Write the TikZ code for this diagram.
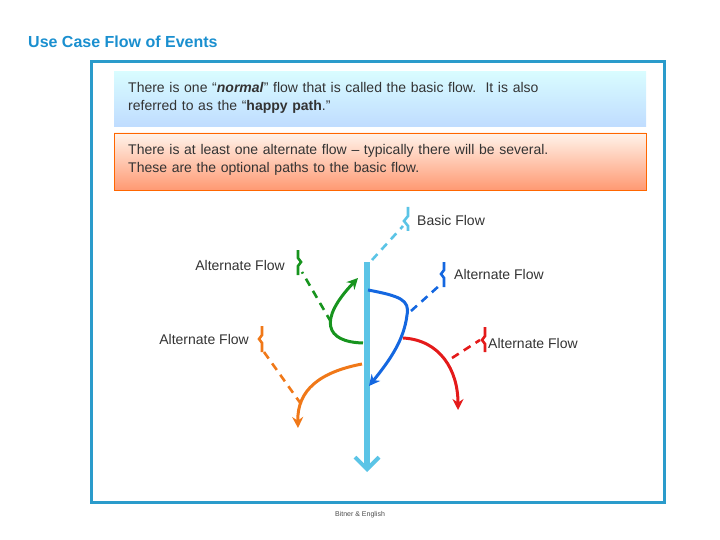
\documentclass[tikz,border=0pt]{standalone}
\usepackage{fontspec}
\setmainfont{Liberation Sans}
\usetikzlibrary{arrows.meta}
\definecolor{frameblue}{HTML}{2A9BCB}
\definecolor{titleblue}{HTML}{1A8FCF}
\definecolor{basic}{HTML}{5BC4E6}
\definecolor{gflow}{HTML}{17941E}
\definecolor{bflow}{HTML}{1467E0}
\definecolor{oflow}{HTML}{F07818}
\definecolor{rflow}{HTML}{E41A1A}
\tikzset{
  lbl/.style={font=\fontsize{14}{16}\selectfont, text=black!80, inner sep=0pt},
  dsh/.style={line width=2.6pt, dash pattern=on 8pt off 6pt},
  sol/.style={line width=3pt, -{Stealth[length=11pt,width=11pt]}},
  brk/.style={line width=2.6pt},
}
\begin{document}
\begin{tikzpicture}[x=1pt,y=-1pt]
\useasboundingbox (0,0) rectangle (720,540);
\node[anchor=west, font=\bfseries\fontsize{16}{18}\selectfont, text=titleblue, inner sep=0pt] (title) at (28,42) {Use Case Flow of Events};
\draw[frameblue, line width=3pt] (91,62) rectangle (664,502);
\shade[top color=blue!8!cyan!15, bottom color=cyan!45!blue!25] (114,72) rectangle (646,127);
\node[lbl, anchor=north west, align=left, text width=500pt, font=\fontsize{14}{18}\selectfont] (t1) at (128,82) {There is one ``\textbf{\textit{normal}}'' flow that is called the basic flow.\ \ It is also\\referred to as the ``\textbf{happy path}.''};
\shade[top color=red!12!orange!8, bottom color=red!45!orange!55] (114,133) rectangle (646,190);
\draw[orange!80!red, line width=0.8pt] (114,133) rectangle (646,190);
\node[lbl, anchor=north west, align=left, text width=500pt, font=\fontsize{14}{18}\selectfont] (t2) at (128,144) {There is at least one alternate flow -- typically there will be several.\\These are the optional paths to the basic flow.};

% basic flow
\coordinate (btop) at (367,262);
\coordinate (bbot) at (367,472);
\draw[basic, line width=6pt, -{Straight Barb[length=12pt,width=24pt,line width=4pt]}] (btop) -- (bbot);
\coordinate (bd1) at (372,260);
\coordinate (bd2) at (403,226);
\draw[basic, dsh] (bd1) -- (bd2);
\draw[basic, brk] (408,207) -- (408,216) -- (404,221) -- (408,226) -- (408,231);
\node[lbl, anchor=west] (lb) at (417,220) {Basic Flow};

% green
\draw[gflow, dsh] (331,322) -- (302,272);
\draw[gflow, brk] (298,250) -- (298,258) -- (301,262) -- (298,266) -- (298,275);
\draw[gflow, sol] (363,343) .. controls (325,342) and (318,320) .. (358,278);
\node[lbl, anchor=east] (lg) at (285,265) {Alternate Flow};

% blue
\draw[bflow, dsh] (411,311) -- (440,285);
\draw[bflow, brk] (444,262) -- (444,270) -- (441,274) -- (444,278) -- (444,287);
\draw[bflow, sol] (368,290) .. controls (400,296) and (410,300) .. (407,315) .. controls (404,340) and (390,360) .. (369,386);
\node[lbl, anchor=west] (lbl2) at (454,274) {Alternate Flow};

% orange
\draw[oflow, dsh] (264,352) -- (301,404);
\draw[oflow, brk] (262,326) -- (262,335) -- (259,339) -- (262,343) -- (262,352);
\draw[oflow, sol] (362,364) .. controls (320,372) and (297,390) .. (298,428);
\node[lbl, anchor=east] (lo) at (249,339) {Alternate Flow};

% red
\draw[rflow, dsh] (452,358) -- (480,340);
\draw[rflow, brk] (485,327) -- (485,336) -- (482,340) -- (485,344) -- (485,352);
\draw[rflow, sol] (403,338) .. controls (440,340) and (458,370) .. (458,410);
\node[lbl, anchor=west] (lr) at (488,343) {Alternate Flow};

\node[font=\fontsize{7}{8}\selectfont, text=black!70] (foot) at (360,515) {Bitner \& English};
\end{tikzpicture}
\end{document}
